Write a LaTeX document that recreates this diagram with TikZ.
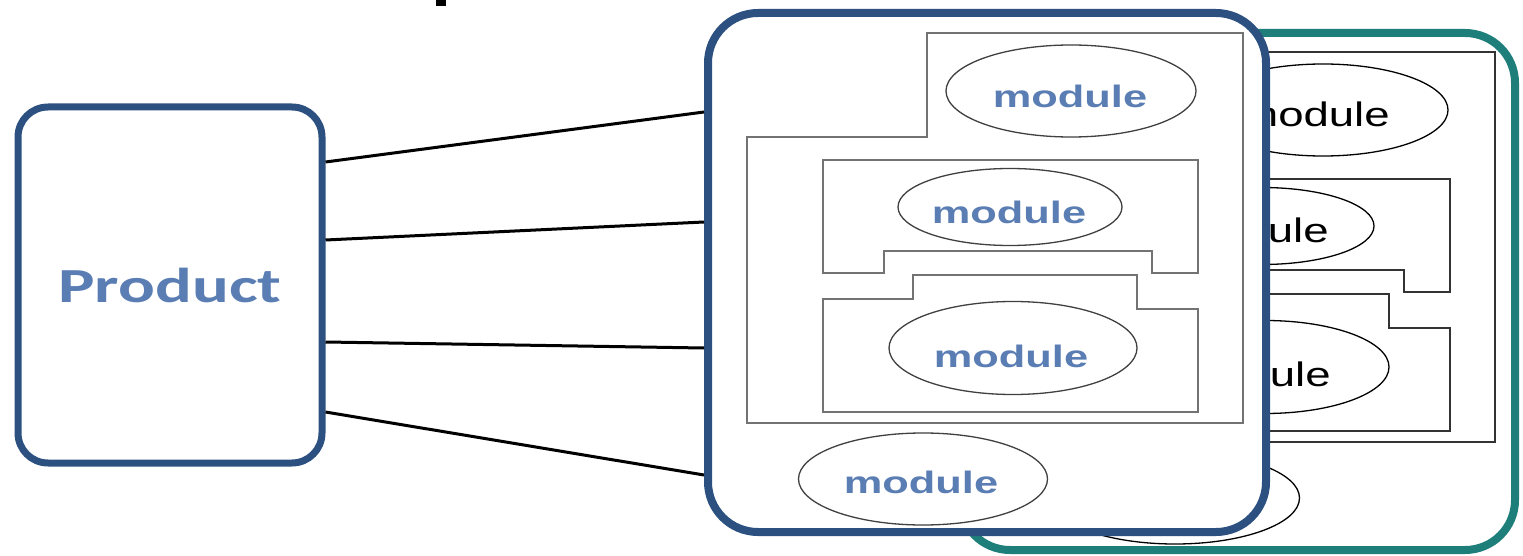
\documentclass[tikz,border=0pt]{standalone}
\usepackage{fontspec}
\newfontfamily\prodfont[FakeStretch=1.4]{Carlito}
\newfontfamily\modfont[FakeStretch=1.4]{Liberation Sans}
\newfontfamily\modbackfont[FakeStretch=1.34]{Liberation Sans}
\usetikzlibrary{shapes.geometric}
\definecolor{navy}{HTML}{2C5080}
\definecolor{tealc}{HTML}{1E7E7A}
\definecolor{txtblue}{HTML}{5A7DB3}
\tikzset{
  bigbox/.style={draw, fill=white, line width=8pt, rounded corners=50pt, inner sep=0pt},
  conn/.style={draw=black, line width=3pt},
  pline/.style={draw=black!55, line width=1.5pt},
  mell/.style={draw=black!75, line width=1.3pt, ellipse, inner sep=0pt},
  mtext/.style={anchor=base, inner sep=0pt, text=txtblue, font=\modfont\bfseries\fontsize{31}{33}\selectfont},
  panel/.pic={
    \draw[pline] (747,137) -- (927,137) -- (927,33) -- (1243,33) -- (1243,423) -- (747,423) -- cycle;
    \draw[pline] (823,160) -- (1198,160) -- (1198,273) -- (1152,273) -- (1152,251) -- (884,251) -- (884,273) -- (823,273) -- cycle;
    \draw[pline] (823,299) -- (913,299) -- (913,275) -- (1137,275) -- (1137,309) -- (1198,309) -- (1198,412) -- (823,412) -- cycle;
    \node[mell, minimum width=250pt, minimum height=92pt] (-e1) at (1071,91) {};
    \node[mell, minimum width=224pt, minimum height=77pt] (-e2) at (1010,207) {};
    \node[mell, minimum width=248pt, minimum height=93pt] (-e3) at (1013,348) {};
    \node[mell, minimum width=249pt, minimum height=92pt] (-e4) at (923,479) {};
    \node[mtext] (-t1) at (1070,108) {module};
    \node[mtext] (-t2) at (1009,223) {module};
    \node[mtext] (-t3) at (1011,367) {module};
    \node[mtext] (-t4) at (921,493) {module};
  }
}
\begin{document}
\begin{tikzpicture}[x=1pt,y=-1pt]
\useasboundingbox (0,0) rectangle (1523,556);
% fragment of cut-off title
\fill[black] (436,0) rectangle (446,6);
% product
\node[draw=navy, line width=7pt, rounded corners=30pt, inner sep=0pt,
      minimum width=304pt, minimum height=356pt, text=txtblue,
      font=\prodfont\bfseries\fontsize{49}{51}\selectfont] (product) at (170,285) {Product};
% back (teal) card
\node[bigbox, draw=tealc, minimum width=555pt, minimum height=517pt] (backbox) at (1237.5,291.5) {};
\pic[pline/.style={draw=black!80, line width=1.5pt},
     mell/.style={draw=black, line width=1.3pt, ellipse, inner sep=0pt},
     mtext/.style={anchor=base, inner sep=0pt, xshift=-7pt, text=black, font=\modbackfont\fontsize{34}{36}\selectfont}]
     (back) at (252,19) {panel};
% front (navy) card
\node[bigbox, draw=navy, minimum width=558pt, minimum height=519pt] (mainbox) at (987,272.5) {};
\pic (front) at (0,0) {panel};
% connectors
\draw[conn] ([yshift=123pt]product.east) -- ([yshift=160.5pt]mainbox.west);
\draw[conn] ([yshift=45pt]product.east) -- ([yshift=50.5pt]mainbox.west);
\draw[conn] ([yshift=-57pt]product.east) -- ([yshift=-75.5pt]mainbox.west);
\draw[conn] ([yshift=-127pt]product.east) -- ([yshift=-202.5pt]mainbox.west);
\end{tikzpicture}
\end{document}
